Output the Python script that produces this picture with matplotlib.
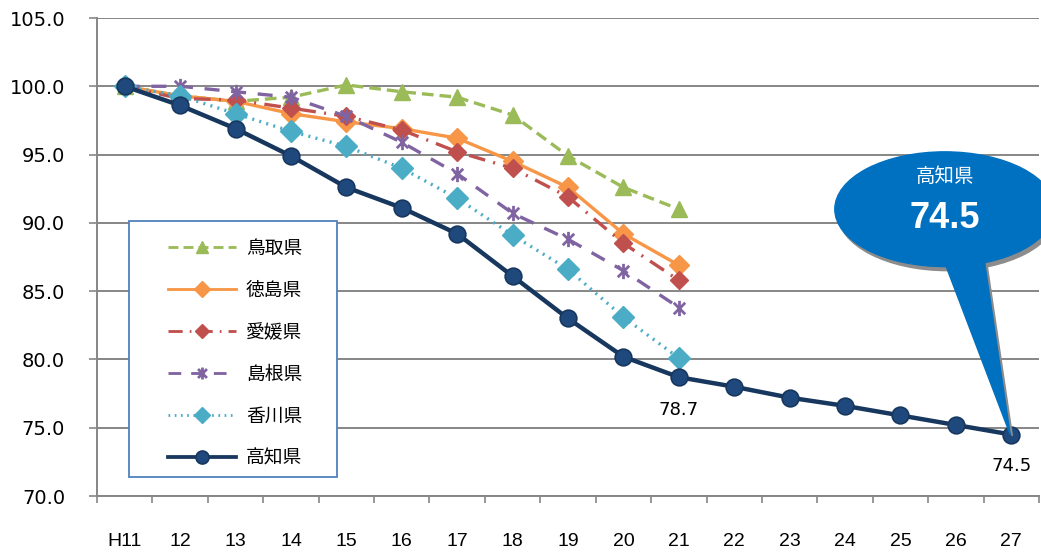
import numpy as np
import matplotlib
matplotlib.use("Agg")
import matplotlib.pyplot as plt
from matplotlib.path import Path
from matplotlib.patches import Ellipse, Polygon, Rectangle
from matplotlib import font_manager

plt.rcParams['font.family'] = ['DejaVu Sans', 'Noto Sans CJK JP']
JP = ['Noto Sans CJK JP', 'DejaVu Sans']
_names = {f.name for f in font_manager.fontManager.ttflist}
NARROW = ['Liberation Sans Narrow'] if 'Liberation Sans Narrow' in _names else ['Liberation Sans', 'DejaVu Sans']

years = ['H11', '12', '13', '14', '15', '16', '17', '18', '19', '20', '21',
         '22', '23', '24', '25', '26', '27']

tottori = [100.0, 99.3, 98.9, 99.2, 100.1, 99.6, 99.2, 97.9, 94.9, 92.6, 91.0]
tokushima = [100.0, 99.3, 98.9, 98.0, 97.4, 96.9, 96.2, 94.5, 92.6, 89.2, 86.9]
ehime = [100.0, 99.1, 99.0, 98.4, 97.8, 96.8, 95.2, 94.0, 91.9, 88.5, 85.8]
shimane = [100.0, 100.0, 99.6, 99.2, 97.8, 95.9, 93.6, 90.7, 88.8, 86.5, 83.8]
kagawa = [100.0, 99.3, 98.0, 96.7, 95.6, 94.0, 91.8, 89.1, 86.6, 83.1, 80.1]
kochi = [100.0, 98.6, 96.9, 94.9, 92.6, 91.1, 89.2, 86.1, 83.0, 80.2, 78.7,
         78.0, 77.2, 76.6, 75.9, 75.2, 74.5]

# excel style "star" marker: X with a vertical bar
star = Path([(0, -1), (0, 1), (-0.75, -0.75), (0.75, 0.75), (-0.75, 0.75), (0.75, -0.75)],
            [Path.MOVETO, Path.LINETO, Path.MOVETO, Path.LINETO, Path.MOVETO, Path.LINETO])

fig = plt.figure(figsize=(10.41, 5.53), dpi=100)
ax = fig.add_axes([97 / 1041, 1 - 496 / 553, 942 / 1041, 478 / 553])

x_short = np.arange(len(tottori))
x_long = np.arange(len(kochi))

ax.plot(x_short, tottori, color='#9bbb59', lw=2.4, ls=(0, (3.5, 1.8)),
        marker='^', ms=11, label='鳥取県', zorder=3)
ax.plot(x_short, tokushima, color='#f79646', lw=2.4, ls='-',
        marker='D', ms=10, label='徳島県', zorder=4)
ax.plot(x_short, ehime, color='#c0504d', lw=2.4, ls=(0, (5, 2.5, 0.6, 2.5)),
        marker='D', ms=9.5, label='愛媛県', zorder=4)
ax.plot(x_short, shimane, color='#8064a2', lw=2.4, ls=(0, (4.5, 3.5)),
        marker=star, ms=11, mew=2, label='島根県', zorder=4)
ax.plot(x_short, kagawa, color='#4bacc6', lw=2.4, ls=(0, (0.6, 1.6)),
        marker='D', ms=11, label='香川県', zorder=4)
ax.plot(x_long, kochi, color='#17375e', lw=3.2, ls='-',
        marker='o', ms=12, mfc='#1f497d', mec='#17375e', mew=1.2,
        label='高知県', zorder=5)

ax.set_xlim(-0.5, len(years) - 0.5)
ax.set_ylim(70, 105)
ax.set_yticks(np.arange(70, 105.1, 5))
ax.set_yticklabels([f'{v:.1f}' for v in np.arange(70, 105.1, 5)], fontsize=14)
ax.set_xticks(x_long)
ax.set_xticklabels(years, fontsize=14, family=NARROW)
ax.set_xticks(np.arange(-0.5, len(years)), minor=True)
ax.tick_params(axis='x', which='major', length=0, pad=27)
ax.tick_params(axis='x', which='minor', length=5, color='#868686', width=1.2)
ax.tick_params(axis='y', length=6, color='#868686', width=1.2, pad=17)
ax.grid(axis='y', color='#868686', lw=1.4)
ax.set_axisbelow(True)
for side in ['top', 'right']:
    ax.spines[side].set_visible(False)
for side in ['left', 'bottom']:
    ax.spines[side].set_color('#868686')
    ax.spines[side].set_linewidth(1.4)

# value labels for Kochi
ax.annotate(f'{kochi[10]:.1f}', (10, kochi[10]), xytext=(0, -17), textcoords='offset points',
            ha='center', va='top', fontsize=13)
ax.annotate(f'{kochi[-1]:.1f}', (16, kochi[-1]), xytext=(0, -16), textcoords='offset points',
            ha='center', va='top', fontsize=13)

# legend: white box drawn by hand, entries without frame
ax.add_patch(Rectangle((0.034, 0.0397), 0.2208, 0.5356, transform=ax.transAxes,
                       facecolor='white', edgecolor='#4f81bd', lw=1.3, zorder=9))
leg = ax.legend(loc='upper left', bbox_to_anchor=(0.0754, 0.540), prop={'family': JP, 'size': 13.5},
                handlelength=3.6, labelspacing=1.12, borderpad=0, handletextpad=0.55,
                frameon=False, borderaxespad=0, markerscale=0.78)
leg.set_zorder(10)
for h in leg.legend_handles:
    h.set_linewidth(h.get_linewidth() * 0.85)

# callout bubble pointing at the last Kochi value
tip_x, tip_y = 16, kochi[-1]
cx, cy = tip_x - 1.2, 91.0
bubble = '#0070c0'
shadow = '#8c8c8c'
dx, dy = 0.05, -0.3
ax.add_patch(Ellipse((cx + dx, cy + dy), 3.97, 8.4, color=shadow, clip_on=False, zorder=6))
ax.add_patch(Polygon([(cx - 0.05 + dx, cy - 3.4 + dy), (cx + 0.7 + dx, cy - 3.4 + dy),
                      (tip_x + 0.02, tip_y - 0.1)], color=shadow, clip_on=False, zorder=6))
ax.add_patch(Ellipse((cx, cy), 3.97, 8.4, color=bubble, clip_on=False, zorder=7))
ax.add_patch(Polygon([(cx - 0.05, cy - 3.4), (cx + 0.7, cy - 3.4), (tip_x - 0.02, tip_y)],
                     color=bubble, clip_on=False, zorder=7))
ax.text(cx, cy + 2.4, '高知県', color='white', ha='center', va='center',
        family=JP, fontsize=14, zorder=8)
ax.text(cx, cy - 0.7, f'{kochi[-1]:.1f}', color='white', ha='center', va='center',
        family=NARROW, fontsize=26, fontweight='bold', zorder=8)

fig.savefig('out.png', dpi=100)
